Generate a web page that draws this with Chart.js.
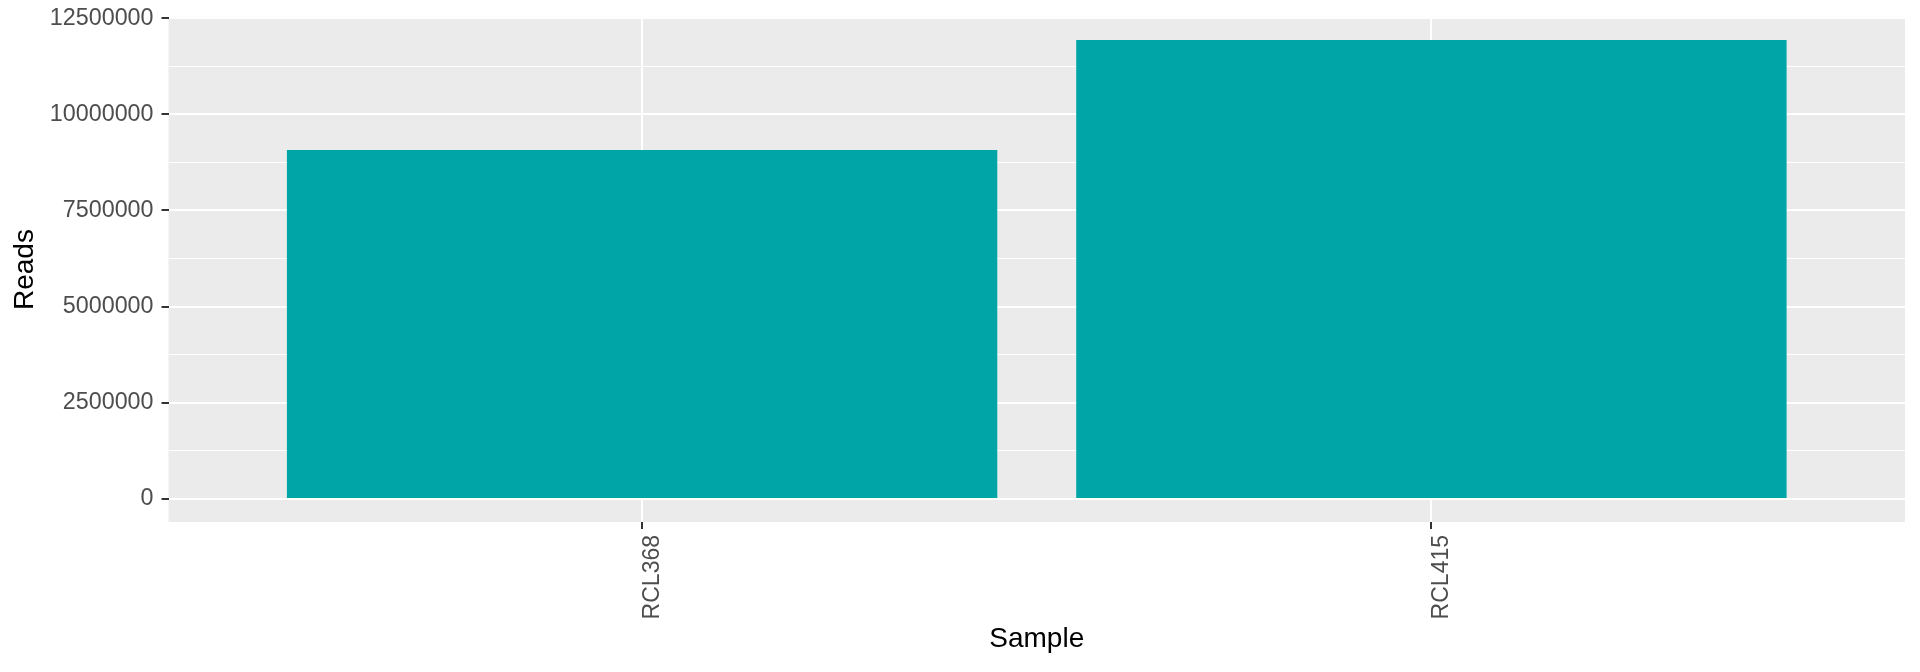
<!DOCTYPE html>
<html><head><meta charset="utf-8">
<script src="https://cdn.jsdelivr.net/npm/chart.js@4/dist/chart.umd.min.js"></script>
<style>html,body{margin:0;padding:0;background:#fff}canvas{display:block}</style>
</head><body>
<canvas id="c" width="1920" height="672"></canvas>
<script>
const categories = ['RCL368', 'RCL415'];
const reads = [9070000, 11930000];
const yMajorTicks = [0, 2500000, 5000000, 7500000, 10000000, 12500000];
const yMinorTicks = [1250000, 3750000, 6250000, 8750000, 11250000];

const maxVal = Math.max(...reads);
const yMin = -0.05 * maxVal;
const yMax = maxVal * 1.05;

const panelBg = {
  id: 'panelBg',
  beforeDraw(chart) {
    const { ctx, chartArea: a } = chart;
    ctx.save();
    ctx.fillStyle = '#EBEBEB';
    ctx.fillRect(a.left, a.top, a.right - a.left, a.bottom - a.top);
    ctx.restore();
  }
};

const FONT = 'Liberation Sans, Arial, Helvetica, sans-serif';

new Chart(document.getElementById('c'), {
  type: 'bar',
  data: {
    datasets: [{
      data: categories.map((c, i) => ({ x: i + 1, y: reads[i] })),
      backgroundColor: '#00A5A8',
      borderWidth: 0,
      categoryPercentage: 1,
      barPercentage: 0.9
    }]
  },
  options: {
    responsive: false,
    animation: false,
    events: [],
    layout: { padding: { left: 0, right: 15, top: 0, bottom: 0 } },
    plugins: { legend: { display: false }, tooltip: { enabled: false } },
    scales: {
      x: {
        type: 'linear',
        offset: false,
        min: 0.4,
        max: categories.length + 0.6,
        afterBuildTicks(s) { s.ticks = categories.map((c, i) => ({ value: i + 1 })); },
        afterFit(s) { s.height = 150; },
        ticks: {
          autoSkip: false,
          callback: (v) => categories[v - 1] ?? '',
          maxRotation: 90, minRotation: 90,
          labelOffset: 10.5,
          color: '#4D4D4D',
          font: { family: FONT, size: 23 },
          padding: 6
        },
        grid: { offset: false, color: '#FFFFFF', lineWidth: 2, tickColor: '#333333', tickLength: 7, tickWidth: 2 },
        border: { display: false },
        title: { display: true, text: 'Sample', color: '#000000', font: { family: FONT, size: 28 }, padding: { top: 4, bottom: 15.6 } }
      },
      y: {
        min: yMin,
        max: yMax,
        afterBuildTicks(s) {
          s.ticks = [...yMajorTicks, ...yMinorTicks].sort((a, b) => a - b).map(v => ({ value: v }));
        },
        afterFit(s) { s.width = 168.5; },
        ticks: {
          autoSkip: false,
          callback: (v) => yMajorTicks.includes(v) ? String(v) : '',
          color: '#4D4D4D',
          font: { family: FONT, size: 23.3, lineHeight: 0.78 },
          padding: 8
        },
        grid: {
          color: '#FFFFFF',
          lineWidth: (ctx) => (ctx.tick && yMajorTicks.includes(ctx.tick.value)) ? 2 : 1,
          tickColor: (ctx) => (ctx.tick && yMajorTicks.includes(ctx.tick.value)) ? '#333333' : 'rgba(0,0,0,0)',
          tickLength: 7,
          tickWidth: 2
        },
        border: { display: false },
        title: { display: true, text: 'Reads', color: '#000000', font: { family: FONT, size: 28 }, padding: { top: 8, bottom: 4 } }
      }
    }
  },
  plugins: [panelBg]
});
</script>
</body></html>
